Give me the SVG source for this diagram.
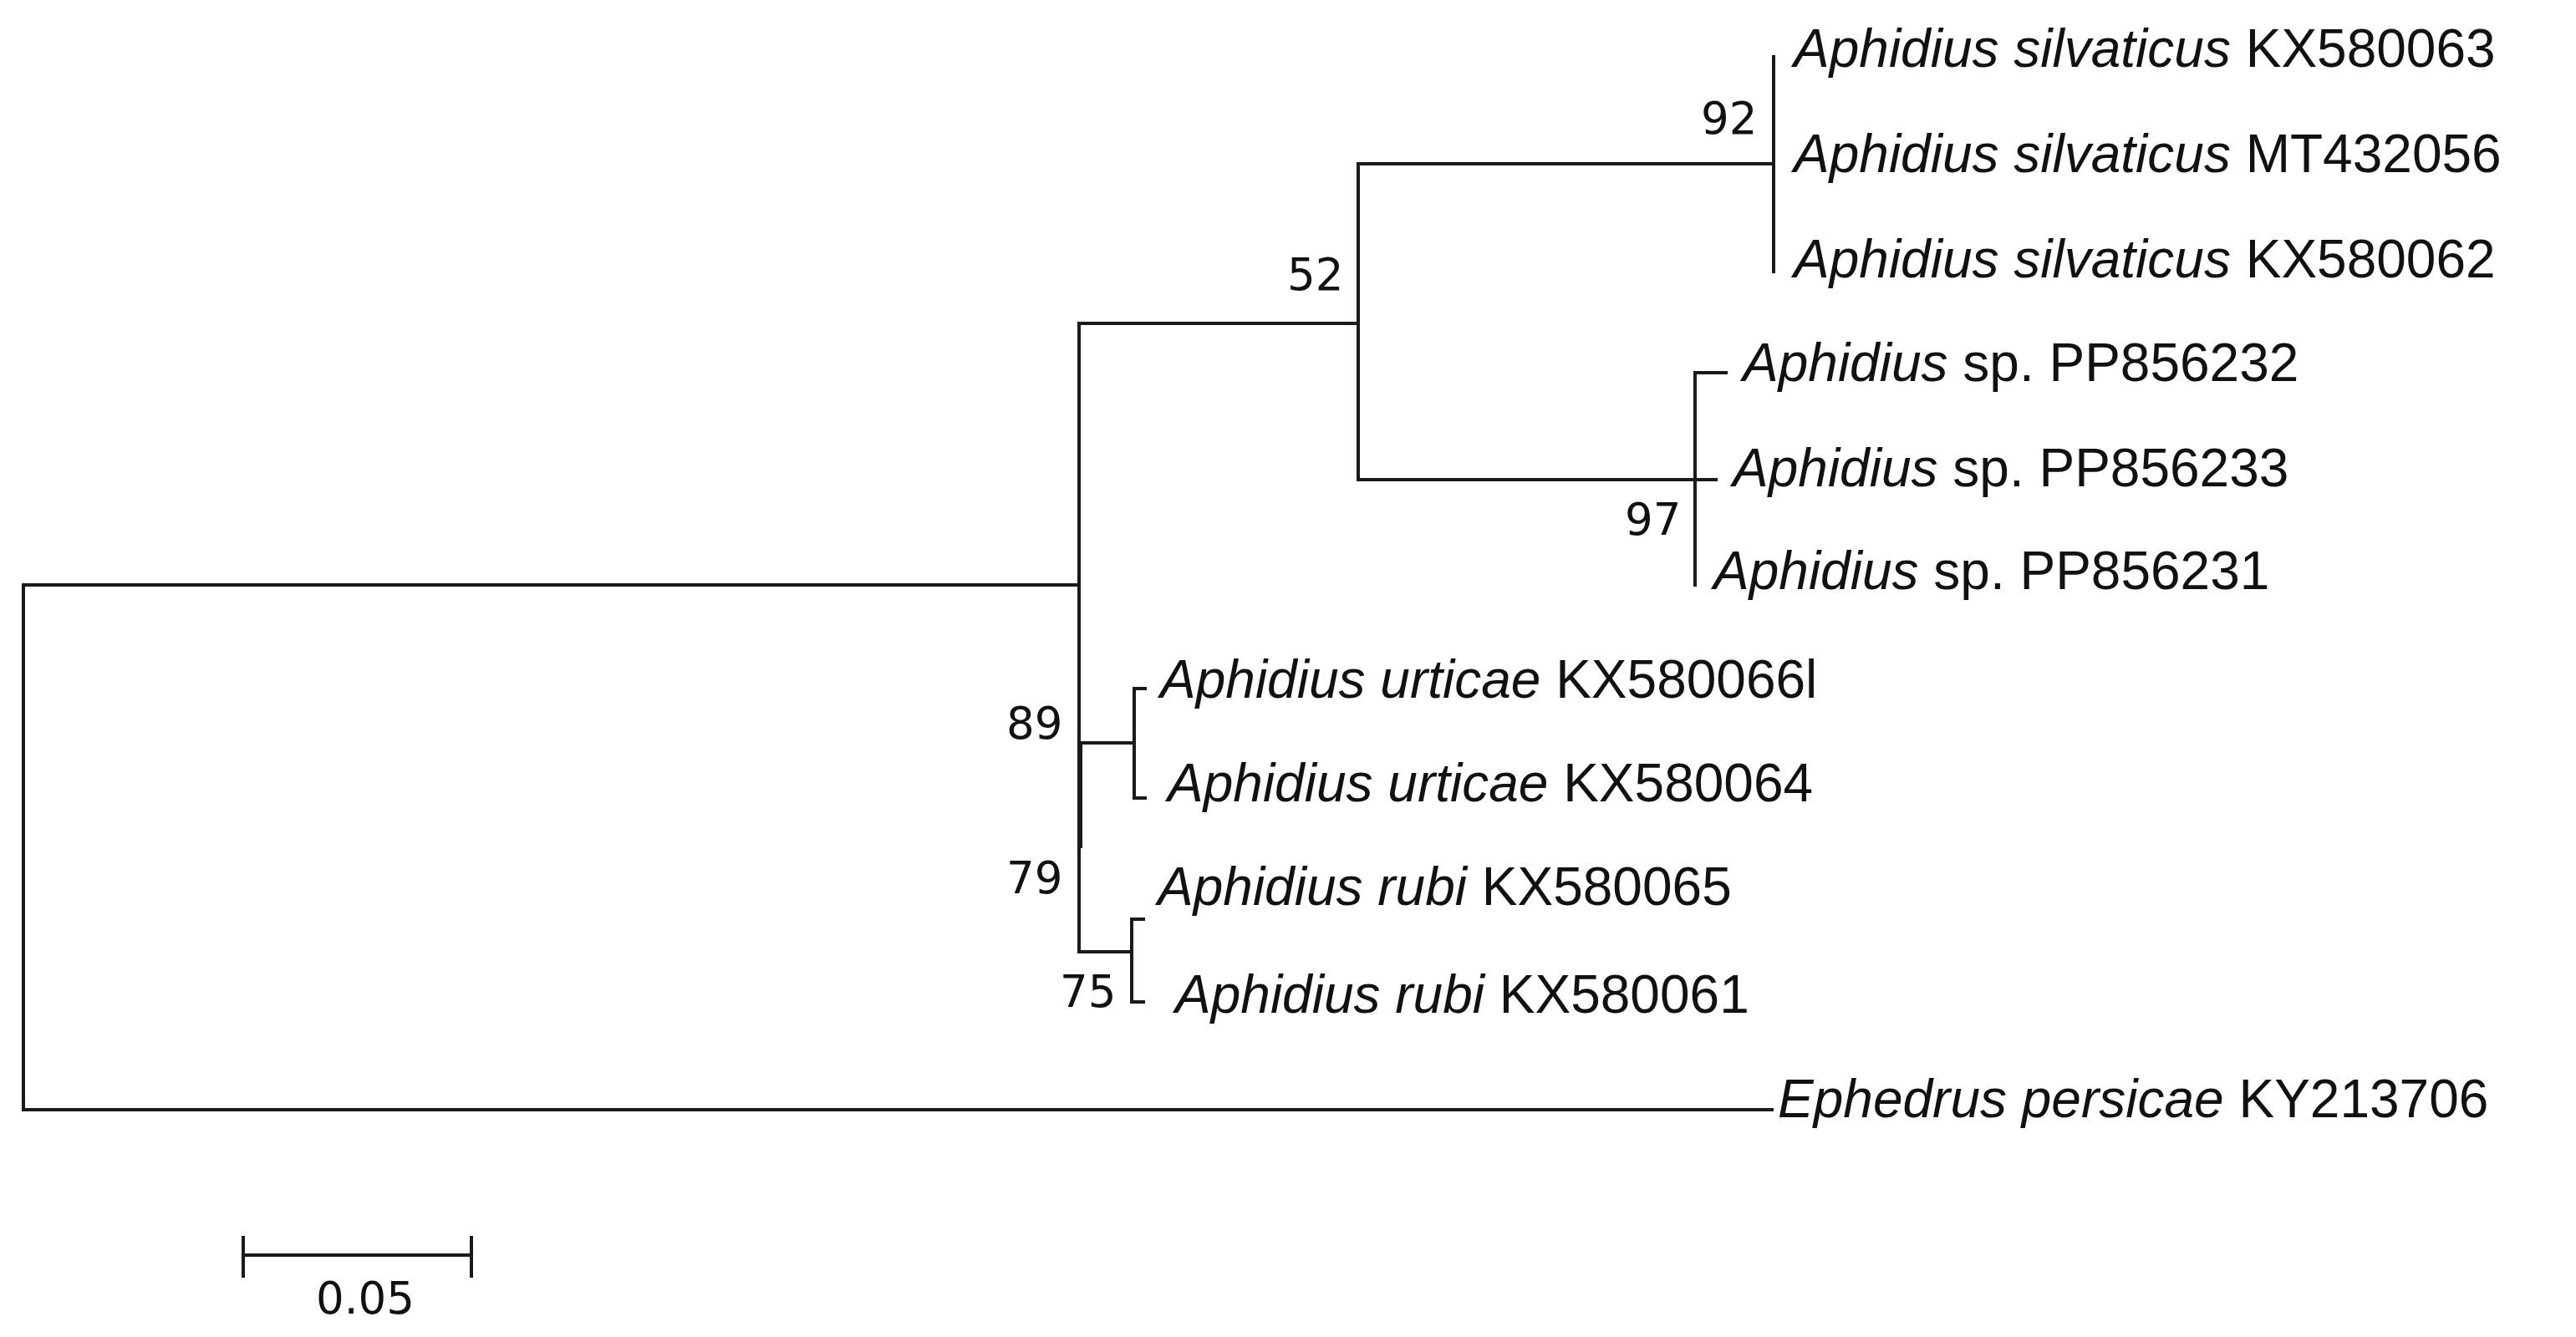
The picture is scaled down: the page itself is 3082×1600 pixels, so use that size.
<svg xmlns="http://www.w3.org/2000/svg" width="3082" height="1600" viewBox="0 0 3082 1600" xml:space="preserve">
<style>
.br{stroke:#1a1a1a;stroke-width:4;fill:none;stroke-linecap:square}
.lf{font-family:"Liberation Sans",Arial,sans-serif;font-size:64px;fill:#111}
.i{font-style:italic}
.bs{font-family:"DejaVu Sans",Verdana,sans-serif;font-size:53px;fill:#111}
</style>
<rect width="3082" height="1600" fill="#fff"/>
<g id="connectors">
<path class="br" d="M1291,700 H28 V1328 H2120"/>
<path class="br" d="M1291,387 V1139"/>
<path class="br" d="M1293,889 V1013"/>
<path class="br" d="M1291,387 H1625 V196 H2122 M1625,387 V574 H2028"/>
<path class="br" d="M2122,68 V325"/>
<path class="br" d="M2028,446 V700 M2028,446 H2065 M2028,574 H2053"/>
<path class="br" d="M1291,889 H1357 M1357,824 V955 M1357,824 H1370 M1357,955 H1370"/>
<path class="br" d="M1291,1139 H1354 M1354,1100 V1199 M1354,1100 H1368 M1354,1199 H1368"/>
</g>
<g id="leaf-KX580063"><text class="lf" x="2146" y="80"><tspan class="i">Aphidius silvaticus</tspan>  KX580063</text></g>
<g id="leaf-MT432056"><text class="lf" x="2146" y="206"><tspan class="i">Aphidius silvaticus</tspan>  MT432056</text></g>
<g id="leaf-KX580062"><text class="lf" x="2146" y="332"><tspan class="i">Aphidius silvaticus</tspan>  KX580062</text></g>
<g id="leaf-PP856232"><text class="lf" x="2085" y="456"><tspan class="i">Aphidius</tspan> sp. PP856232</text></g>
<g id="leaf-PP856233"><text class="lf" x="2073" y="582"><tspan class="i">Aphidius</tspan> sp. PP856233</text></g>
<g id="leaf-PP856231"><text class="lf" x="2050" y="705"><tspan class="i">Aphidius</tspan> sp. PP856231</text></g>
<g id="leaf-KX580066l"><text class="lf" x="1388" y="835"><tspan class="i">Aphidius urticae</tspan>  KX580066l</text></g>
<g id="leaf-KX580064"><text class="lf" x="1397" y="959"><tspan class="i">Aphidius urticae</tspan>  KX580064</text></g>
<g id="leaf-KX580065"><text class="lf" x="1385" y="1083"><tspan class="i">Aphidius rubi</tspan>  KX580065</text></g>
<g id="leaf-KX580061"><text class="lf" x="1406" y="1212"><tspan class="i">Aphidius rubi</tspan> KX580061</text></g>
<g id="leaf-KY213706"><text class="lf" x="2127" y="1337"><tspan class="i">Ephedrus persicae</tspan> KY213706</text></g>
<g id="bootstrap">
<text class="bs" x="2035" y="160">92</text>
<text class="bs" x="1540" y="347">52</text>
<text class="bs" x="1944" y="640">97</text>
<text class="bs" x="1204" y="884">89</text>
<text class="bs" x="1204" y="1069">79</text>
<text class="bs" x="1268" y="1205">75</text>
</g>
<g id="scale-bar">
<path class="br" d="M291,1502 H564 M291,1481 V1527 M564,1481 V1527"/>
<text class="bs" x="437" y="1572" text-anchor="middle">0.05</text>
</g>
</svg>
